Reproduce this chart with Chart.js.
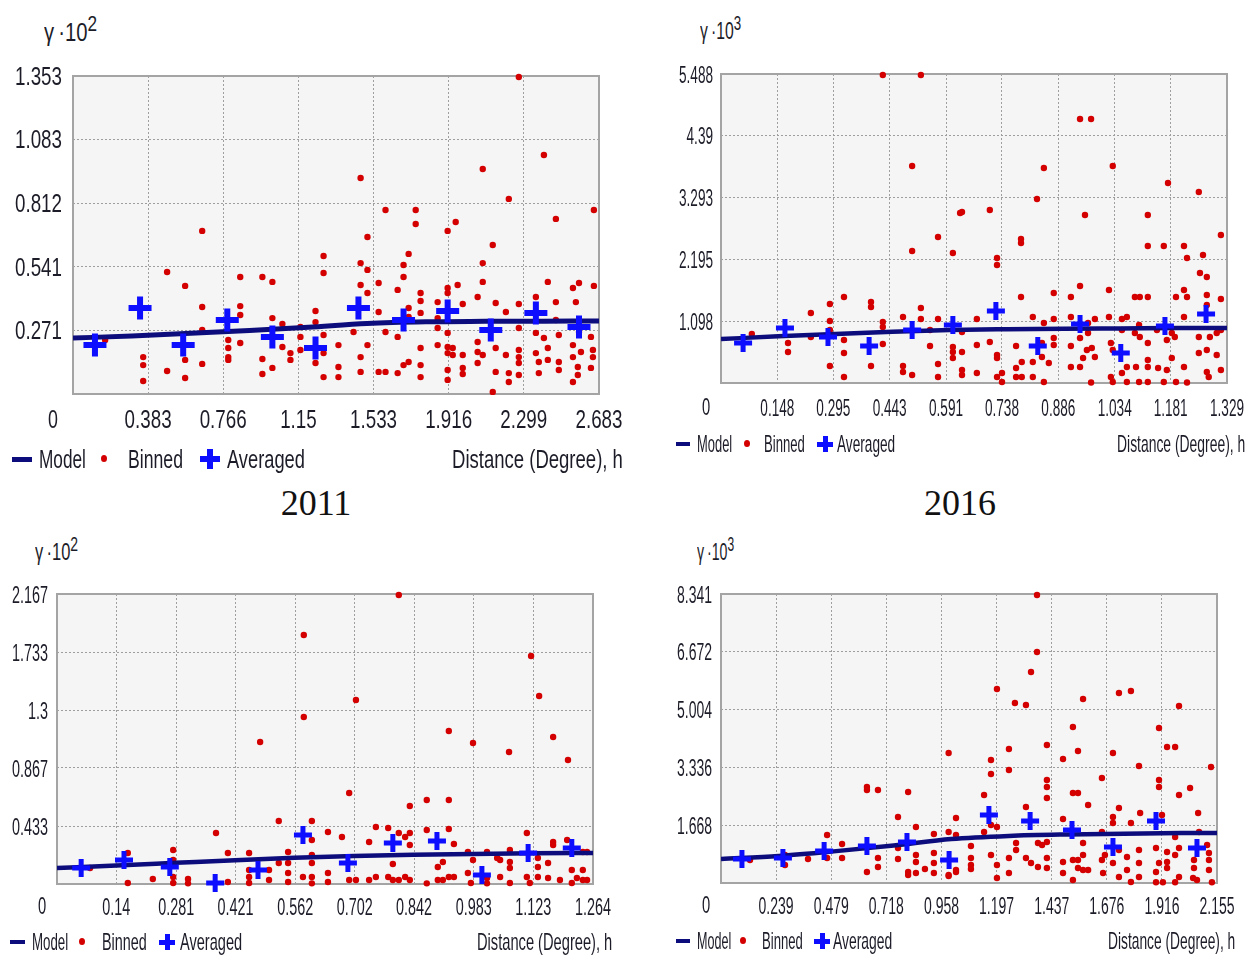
<!DOCTYPE html>
<html>
<head>
<meta charset="utf-8">
<script src="https://cdn.jsdelivr.net/npm/chart.js@4/dist/chart.umd.min.js"></script>
<style>
  body { margin: 0; background: #fff; }
  #page { position: relative; width: 1252px; height: 956px; overflow: hidden; background: #fff; }
  canvas { position: absolute; }
  .txt { position: absolute; white-space: nowrap; color: #1c1c28; transform-origin: 0 50%;
         font-family: "Liberation Sans", Arial, sans-serif; }
  .year { position: absolute; font-family: "Liberation Serif", "DejaVu Serif", serif; font-size: 36px; color: #111; }
  sup { font-size: 85%; vertical-align: 0.45em; line-height: 0; }
</style>
</head>
<body>
<div id="page">
  <canvas id="chart2011"></canvas>
  <canvas id="chart2016"></canvas>
  <canvas id="chartLowerLeft"></canvas>
  <canvas id="chartLowerRight"></canvas>
</div>
<script>
// ---------- 2011 (top left), gamma * 10^2 ----------
var xTicks2011 = [0, 0.383, 0.766, 1.15, 1.533, 1.916, 2.299, 2.683];
var yTicks2011 = [0, 0.271, 0.541, 0.812, 1.083, 1.353];
var model2011 = [[0,0.238],[0.3,0.247],[0.6,0.258],[0.9,0.270],[1.2,0.284],[1.5,0.300],[1.8,0.307],[2.1,0.309],[2.4,0.310],[2.683,0.311]];
var averaged2011 = [[0.112,0.208],[0.342,0.366],[0.562,0.208],[0.787,0.315],[1.017,0.243],[1.237,0.196],[1.456,0.366],[1.686,0.315],[1.911,0.353],[2.131,0.272],[2.361,0.345],[2.581,0.285]];
var binned2011 = [
  [2.274,1.349],[2.402,1.017],[2.090,0.957],[1.467,0.919],[2.223,0.830],[1.594,0.783],[1.748,0.783],[1.748,0.723],
  [1.952,0.732],[1.911,0.694],[2.463,0.745],[2.657,0.783],[1.502,0.668],[0.659,0.694],[0.480,0.519],[0.572,0.460],
  [0.853,0.498],[0.966,0.498],[1.017,0.477],[0.659,0.370],[0.659,0.272],[0.853,0.374],[0.853,0.336],[0.853,0.217],
  [1.017,0.323],[1.068,0.298],[1.237,0.353],[1.237,0.306],[1.160,0.285],[1.160,0.243],[1.160,0.187],[0.358,0.157],
  [0.358,0.123],[0.358,0.055],[0.164,0.230],[0.480,0.098],[0.572,0.145],[0.572,0.068],[0.659,0.128],[0.792,0.230],
  [0.792,0.196],[0.792,0.157],[0.792,0.145],[0.966,0.149],[0.966,0.085],[1.017,0.111],[1.068,0.200],[1.109,0.174],
  [1.109,0.145],[1.237,0.132],[1.278,0.587],[1.278,0.515],[1.467,0.557],[1.502,0.528],[1.467,0.464],[1.502,0.430],
  [1.559,0.472],[1.712,0.596],[1.686,0.549],[1.686,0.498],[1.656,0.443],[1.773,0.430],[1.773,0.396],[1.773,0.345],
  [1.860,0.391],[1.911,0.451],[1.911,0.430],[1.962,0.464],[2.090,0.557],[2.090,0.477],[2.141,0.634],[2.064,0.413],
  [1.988,0.383],[2.156,0.387],[2.208,0.349],[2.274,0.383],[2.422,0.477],[2.361,0.413],[2.463,0.391],[2.581,0.472],
  [2.550,0.451],[2.657,0.460],[2.565,0.391],[1.278,0.251],[1.278,0.174],[1.278,0.072],[1.354,0.208],[1.354,0.115],
  [1.354,0.072],[1.431,0.264],[1.467,0.157],[1.467,0.094],[1.559,0.349],[1.594,0.264],[1.559,0.094],[1.594,0.094],
  [1.502,0.208],[1.656,0.243],[1.656,0.089],[1.712,0.366],[1.712,0.328],[1.686,0.123],[1.712,0.136],[1.773,0.196],
  [1.773,0.123],[1.773,0.072],[1.860,0.323],[1.860,0.281],[1.860,0.208],[1.911,0.260],[1.911,0.200],[1.911,0.174],
  [1.911,0.102],[1.911,0.060],[1.937,0.196],[1.937,0.166],[1.988,0.166],[1.988,0.111],[1.988,0.085],[2.064,0.221],
  [2.064,0.179],[2.064,0.132],[2.090,0.166],[2.141,0.009],[2.156,0.196],[2.156,0.094],[2.208,0.166],[2.223,0.089],
  [2.223,0.051],[2.274,0.281],[2.274,0.187],[2.274,0.157],[2.274,0.132],[2.274,0.081],[2.361,0.260],[2.361,0.174],
  [2.376,0.136],[2.376,0.089],[2.402,0.238],[2.422,0.196],[2.422,0.145],[2.478,0.251],[2.478,0.136],[2.478,0.102],
  [2.463,0.315],[2.550,0.208],[2.550,0.157],[2.550,0.051],[2.575,0.115],[2.575,0.081],[2.591,0.179],[2.642,0.243],
  [2.652,0.187],[2.652,0.157],[2.642,0.111],[2.581,0.264]
];

// ---------- 2016 (top right), gamma * 10^3 ----------
var xTicks2016 = [0, 0.148, 0.295, 0.443, 0.591, 0.738, 0.886, 1.034, 1.181, 1.329];
var yTicks2016 = [0, 1.098, 2.195, 3.293, 4.39, 5.488];
var model2016 = [[0,0.78],[0.15,0.83],[0.3,0.87],[0.45,0.91],[0.6,0.94],[0.75,0.955],[0.9,0.965],[1.05,0.97],[1.2,0.975],[1.329,0.977]];
var averaged2016 = [[0.058,0.710],[0.168,0.977],[0.281,0.817],[0.389,0.657],[0.502,0.941],[0.609,1.030],[0.722,1.279],[0.832,0.657],[0.943,1.048],[1.050,0.533],[1.166,1.012],[1.274,1.225]];
var binned2016 = [
  [0.425,5.47],[0.525,5.47],[0.502,3.854],[0.570,2.593],[0.628,3.019],[0.943,4.689],[0.972,4.689],[0.848,3.818],
  [1.029,3.854],[1.174,3.552],[1.255,3.392],[0.830,3.268],[0.633,3.037],[0.706,3.072],[0.956,2.984],[1.121,2.984],
  [1.313,2.628],[0.788,2.557],[0.502,2.344],[0.609,2.309],[0.236,1.243],[0.286,1.403],[0.286,1.101],[0.323,1.527],
  [0.394,1.439],[0.394,1.350],[0.081,0.870],[0.176,0.710],[0.176,0.551],[0.236,0.817],[0.286,0.941],[0.286,0.302],
  [0.323,0.764],[0.323,0.533],[0.323,0.107],[0.394,0.302],[0.425,1.083],[0.425,0.995],[0.425,0.693],[0.478,1.172],
  [0.525,1.332],[0.525,1.137],[0.549,0.941],[0.549,0.657],[0.570,1.137],[0.478,0.302],[0.478,0.195],[0.502,0.142],
  [0.570,0.337],[0.570,0.107],[0.609,0.551],[0.609,0.444],[0.788,2.486],[0.725,2.220],[0.725,2.096],[0.788,1.527],
  [0.672,1.137],[0.633,0.906],[0.609,0.639],[0.633,0.551],[0.633,0.231],[0.633,0.142],[0.672,0.675],[0.672,0.178],
  [0.706,0.728],[0.725,0.497],[0.725,0.444],[0.725,0.107],[0.738,0.178],[0.738,0.018],[0.775,0.657],[0.775,0.266],
  [0.775,0.107],[0.790,0.373],[0.790,0.107],[0.819,1.172],[0.819,0.373],[0.819,0.107],[0.843,0.710],[0.843,0.462],
  [0.848,1.066],[0.848,0.018],[0.874,1.598],[0.874,1.137],[0.874,0.799],[0.874,0.675],[0.861,0.355],[0.919,1.527],
  [0.919,1.172],[0.919,0.657],[0.919,0.284],[0.943,1.723],[0.943,0.799],[0.951,0.444],[0.943,0.284],[0.961,0.586],
  [0.964,0.888],[0.964,1.066],[0.974,0.622],[0.982,1.137],[0.982,0.462],[0.972,0.010],[1.019,1.652],[1.019,1.172],
  [1.024,0.710],[1.029,0.586],[1.024,0.107],[1.029,0.018],[1.053,1.137],[1.053,0.941],[1.053,0.178],[1.066,1.172],
  [1.066,0.284],[1.066,0.018],[1.087,1.527],[1.100,1.527],[1.087,0.888],[1.100,0.817],[1.098,1.030],[1.090,0.284],
  [1.098,0.018],[1.121,1.527],[1.121,0.710],[1.121,0.408],[1.121,0.284],[1.121,0.018],[1.145,0.941],[1.148,0.266],
  [1.163,2.433],[1.121,2.433],[1.171,0.764],[1.171,0.231],[1.163,0.018],[1.184,0.888],[1.192,0.817],[1.184,0.444],
  [1.195,1.527],[1.195,0.018],[1.216,2.433],[1.224,2.220],[1.216,1.652],[1.224,1.527],[1.216,1.172],[1.216,0.284],
  [1.224,0.010],[1.258,1.954],[1.276,1.883],[1.266,2.273],[1.276,1.563],[1.276,1.385],[1.255,0.817],[1.255,0.533],
  [1.276,0.586],[1.284,0.817],[1.276,0.195],[1.281,0.107],[1.313,1.492],[1.302,0.888],[1.302,0.497],[1.313,0.231],
  [1.313,0.941]
];

// ---------- lower left, gamma * 10^2 ----------
var xTicksLowerLeft = [0, 0.14, 0.281, 0.421, 0.562, 0.702, 0.842, 0.983, 1.123, 1.264];
var yTicksLowerLeft = [0, 0.433, 0.867, 1.3, 1.733, 2.167];
var modelLowerLeft = [[0,0.120],[0.14,0.138],[0.28,0.158],[0.42,0.178],[0.56,0.196],[0.7,0.210],[0.84,0.219],[0.98,0.225],[1.12,0.229],[1.264,0.232]];
var averagedLowerLeft = [[0.057,0.120],[0.158,0.179],[0.266,0.127],[0.373,0.007],[0.474,0.105],[0.580,0.366],[0.686,0.157],[0.792,0.306],[0.896,0.321],[1.002,0.067],[1.111,0.232],[1.214,0.269]];
var binnedLowerLeft = [
  [0.582,1.861],[0.582,1.248],[0.479,1.061],[0.523,0.471],[0.601,0.471],[0.375,0.381],[0.167,0.232],[0.167,0.007],
  [0.078,0.120],[0.274,0.254],[0.274,0.179],[0.274,0.052],[0.274,0.007],[0.226,0.037],[0.309,0.037],[0.309,0.005],
  [0.403,0.232],[0.403,0.015],[0.453,0.232],[0.453,0.105],[0.453,0.052],[0.453,0.007],[0.500,0.105],[0.500,0.030],
  [0.523,0.157],[0.545,0.239],[0.545,0.157],[0.545,0.082],[0.545,0.015],[0.580,0.052],[0.601,0.329],[0.601,0.217],
  [0.601,0.157],[0.601,0.052],[0.601,0.005],[0.806,2.159],[1.118,1.704],[1.137,1.405],[0.705,1.375],[0.924,1.143],
  [0.981,1.054],[1.170,1.098],[1.066,0.986],[1.205,0.927],[0.689,0.680],[0.832,0.583],[0.872,0.628],[0.924,0.628],
  [0.639,0.389],[0.672,0.351],[0.736,0.314],[0.752,0.426],[0.781,0.418],[0.806,0.381],[0.821,0.351],[0.832,0.381],
  [0.832,0.291],[0.872,0.403],[0.924,0.411],[0.936,0.299],[0.639,0.082],[0.639,0.015],[0.689,0.030],[0.705,0.030],
  [0.736,0.030],[0.752,0.052],[0.781,0.052],[0.792,0.149],[0.792,0.030],[0.806,0.030],[0.821,0.052],[0.832,0.030],
  [0.872,0.005],[0.898,0.127],[0.898,0.030],[0.910,0.164],[0.910,0.030],[0.924,0.052],[0.936,0.052],[0.969,0.239],
  [0.981,0.179],[0.969,0.082],[0.976,0.007],[1.014,0.239],[1.014,0.045],[1.014,0.005],[1.038,0.194],[1.045,0.179],
  [1.045,0.052],[1.068,0.254],[1.068,0.164],[1.068,0.120],[1.068,0.007],[1.108,0.381],[1.108,0.052],[1.115,0.007],
  [1.134,0.194],[1.134,0.127],[1.134,0.052],[1.158,0.157],[1.158,0.045],[1.170,0.314],[1.170,0.291],[1.186,0.030],
  [1.203,0.329],[1.214,0.105],[1.214,0.007],[1.226,0.045],[1.240,0.239],[1.240,0.105],[1.240,0.030],[1.250,0.239],
  [1.250,0.030]
];

// ---------- lower right, gamma * 10^3 ----------
var xTicksLowerRight = [0, 0.239, 0.479, 0.718, 0.958, 1.197, 1.437, 1.676, 1.916, 2.155];
var yTicksLowerRight = [0, 1.668, 3.336, 5.004, 6.672, 8.341];
var modelLowerRight = [[0,0.69],[0.25,0.78],[0.5,0.92],[0.75,1.08],[1.0,1.27],[1.25,1.36],[1.5,1.40],[1.75,1.42],[2.0,1.44],[2.155,1.443]];
var averagedLowerRight = [[0.091,0.693],[0.269,0.722],[0.448,0.924],[0.634,1.068],[0.808,1.183],[0.991,0.664],[1.164,1.962],[1.343,1.789],[1.525,1.530],[1.703,1.039],[1.890,1.789],[2.068,1.010]];
var binnedLowerRight = [
  [0.989,3.752],[0.634,2.771],[0.634,2.684],[0.682,2.684],[0.813,2.626],[0.769,1.905],[0.847,1.616],[1.021,1.876],
  [0.461,1.385],[0.526,1.126],[0.526,0.722],[0.126,0.664],[0.378,0.693],[0.461,0.722],[0.682,0.722],[0.682,0.462],
  [0.634,0.317],[0.769,1.010],[0.769,0.693],[0.813,0.317],[0.813,0.231],[0.847,0.808],[0.847,0.606],[0.847,0.289],
  [0.886,0.404],[0.925,1.414],[0.925,0.866],[0.925,0.577],[0.925,0.289],[0.989,1.472],[0.989,0.202],[1.021,0.317],
  [1.021,1.385],[0.278,0.808],[0.278,0.519],[1.373,8.312],[1.373,6.667],[1.347,6.089],[1.199,5.599],[1.277,5.195],
  [1.325,5.137],[1.573,5.310],[1.729,5.483],[1.781,5.541],[1.990,5.108],[1.529,4.502],[1.903,4.473],[1.938,3.925],
  [1.973,3.925],[1.416,3.983],[1.251,3.867],[1.251,3.261],[1.486,3.579],[1.551,3.810],[1.703,3.752],[1.173,3.550],
  [1.173,3.146],[1.816,3.377],[2.129,3.348],[1.655,3.030],[1.416,2.973],[1.416,2.771],[1.416,2.453],[1.143,2.540],
  [1.529,2.597],[1.551,2.597],[1.595,2.251],[1.903,2.973],[1.903,2.771],[2.038,2.742],[1.990,2.540],[1.325,2.193],
  [1.821,2.020],[2.073,2.020],[1.143,1.472],[1.173,1.674],[1.199,1.616],[1.486,1.847],[1.703,1.905],[1.703,1.732],
  [1.729,2.165],[1.781,1.732],[1.916,1.962],[1.655,1.472],[1.282,1.154],[1.282,0.952],[1.086,1.068],[1.086,0.722],
  [1.086,0.519],[1.086,0.404],[1.173,0.808],[1.199,0.519],[1.199,0.144],[1.251,0.722],[1.251,0.289],[1.325,0.722],
  [1.347,0.577],[1.377,1.154],[1.377,0.462],[1.395,1.097],[1.416,1.183],[1.416,0.722],[1.416,0.433],[1.486,0.606],
  [1.486,0.289],[1.529,0.664],[1.529,0.087],[1.551,0.664],[1.551,0.433],[1.573,1.154],[1.573,0.808],[1.573,0.375],
  [1.595,0.375],[1.655,0.664],[1.660,0.289],[1.668,0.808],[1.703,0.577],[1.729,0.952],[1.729,0.173],[1.764,0.750],
  [1.764,0.375],[1.781,0.029],[1.816,0.952],[1.816,0.577],[1.816,0.173],[1.890,1.010],[1.890,0.317],[1.890,0.020],
  [1.903,0.577],[1.920,0.020],[1.938,0.895],[1.938,0.606],[1.938,0.433],[1.973,1.328],[1.973,0.808],[1.973,0.020],
  [1.990,1.010],[1.990,0.173],[2.055,0.664],[2.055,0.433],[2.051,0.144],[2.068,0.087],[2.077,1.472],[2.112,1.097],
  [2.120,0.664],[2.120,0.375],[2.133,0.020],[2.120,0.866],[1.021,0.375],[0.989,0.231]
];

var FONT = '"Liberation Sans", Arial, sans-serif';
var INK = '#1c1c28';
var page = document.getElementById('page');

var framePlugin = {
  id: 'frame',
  beforeDraw: function (chart) {
    var a = chart.chartArea, ctx = chart.ctx;
    ctx.save();
    ctx.fillStyle = '#f5f5f5';
    ctx.fillRect(a.left, a.top, a.right - a.left, a.bottom - a.top);
    ctx.restore();
  },
  beforeDatasetsDraw: function (chart) {
    var a = chart.chartArea, ctx = chart.ctx;
    ctx.save();
    ctx.strokeStyle = '#a4a4a4';
    ctx.lineWidth = 2;
    ctx.strokeRect(a.left, a.top, a.right - a.left, a.bottom - a.top);
    ctx.restore();
  }
};

// tick labels in a narrow face: the library's ticks, squeezed horizontally
var narrowTicks = {
  id: 'narrowTicks',
  afterDraw: function (chart, args, o) {
    var ctx = chart.ctx, a = chart.chartArea;
    var xs = chart.scales.x, ys = chart.scales.y;
    ctx.save();
    ctx.font = o.size + 'px ' + FONT;
    ctx.fillStyle = INK;
    var k = o.refWidth / ctx.measureText(o.refLabel).width;
    var asc = o.size * 0.36;
    xs.ticks.forEach(function (t) {
      if (t.value === 0) return;
      ctx.save();
      ctx.translate(xs.getPixelForValue(t.value), a.bottom + o.xOff + asc);
      ctx.scale(k, 1);
      ctx.textAlign = 'center';
      ctx.fillText(String(t.value), 0, 0);
      ctx.restore();
    });
    ys.ticks.forEach(function (t) {
      if (t.value === 0) return;
      ctx.save();
      ctx.translate(a.left - o.yOff, ys.getPixelForValue(t.value) + asc);
      ctx.scale(k, 1);
      ctx.textAlign = 'right';
      ctx.fillText(String(t.value), 0, 0);
      ctx.restore();
    });
    ctx.restore();
  }
};

function pts(arr) {
  return arr.map(function (p) { return { x: p[0], y: p[1] }; });
}

// HTML text squeezed to a target width; anchor 'l', 'r' or 'c' at x
function addText(html, x, cy, size, width, anchor) {
  var d = document.createElement('div');
  d.className = 'txt';
  d.innerHTML = html;
  d.style.fontSize = size + 'px';
  d.style.lineHeight = size + 'px';
  d.style.top = (cy - size / 2) + 'px';
  page.appendChild(d);
  var k = width / d.offsetWidth;
  var left = anchor === 'r' ? x - width : anchor === 'c' ? x - width / 2 : x;
  d.style.left = left + 'px';
  d.style.transform = 'scaleX(' + k + ')';
  return d;
}

function addBox(left, top, w, h, color) {
  var d = document.createElement('div');
  d.style.position = 'absolute';
  d.style.left = left + 'px';
  d.style.top = top + 'px';
  d.style.width = w + 'px';
  d.style.height = h + 'px';
  d.style.background = color;
  page.appendChild(d);
  return d;
}

function makePanel(id, cfg) {
  var pad = { l: 80, t: 24, r: 46, b: 56 };
  var w = cfg.rect.r - cfg.rect.l, h = cfg.rect.b - cfg.rect.t;
  var canvas = document.getElementById(id);
  canvas.width = w + pad.l + pad.r;
  canvas.height = h + pad.t + pad.b;
  canvas.style.left = (cfg.rect.l - pad.l) + 'px';
  canvas.style.top = (cfg.rect.t - pad.t) + 'px';

  new Chart(canvas, {
    type: 'scatter',
    data: {
      datasets: [
        { label: 'Averaged', data: pts(cfg.averaged), pointStyle: 'cross', pointRadius: cfg.plus / 2,
          pointHoverRadius: cfg.plus / 2, borderColor: '#0d0dff', backgroundColor: '#0d0dff',
          borderWidth: cfg.plusW, pointBorderWidth: cfg.plusW, clip: false },
        { label: 'Model', data: pts(cfg.model), showLine: true, borderColor: '#0c0c7c', borderWidth: cfg.lineW,
          pointRadius: 0, cubicInterpolationMode: 'monotone' },
        { label: 'Binned', data: pts(cfg.binned), pointStyle: 'circle', pointRadius: 3.2, pointHoverRadius: 3.2,
          backgroundColor: '#d40000', borderColor: '#d40000', borderWidth: 0, clip: false }
      ]
    },
    options: {
      responsive: false,
      animation: false,
      events: [],
      layout: { padding: { left: 0, top: pad.t, right: pad.r, bottom: 0 } },
      plugins: {
        legend: { display: false }, tooltip: { enabled: false },
        narrowTicks: { size: cfg.font, refLabel: String(cfg.yTicks[cfg.yTicks.length - 1]),
                       refWidth: cfg.refWidth, xOff: cfg.xOff, yOff: cfg.yOff }
      },
      scales: {
        x: {
          type: 'linear', min: 0, max: cfg.xTicks[cfg.xTicks.length - 1],
          afterBuildTicks: function (s) { s.ticks = cfg.xTicks.map(function (v) { return { value: v }; }); },
          afterFit: function (s) { s.height = pad.b; },
          grid: { color: '#9e9e9e', lineWidth: 1, drawTicks: false },
          border: { display: false, dash: [2, 2] },
          ticks: { display: false, autoSkip: false }
        },
        y: {
          type: 'linear', min: 0, max: cfg.yTicks[cfg.yTicks.length - 1],
          afterBuildTicks: function (s) { s.ticks = cfg.yTicks.map(function (v) { return { value: v }; }); },
          afterFit: function (s) { s.width = pad.l; },
          grid: { color: '#9e9e9e', lineWidth: 1, drawTicks: false },
          border: { display: false, dash: [2, 2] },
          ticks: { display: false, autoSkip: false }
        }
      }
    },
    plugins: [framePlugin, narrowTicks]
  });

  // shared origin label
  addText('0', cfg.zero[0], cfg.zero[1], cfg.font, cfg.zeroW, 'c');
  // y-axis title
  var yt = cfg.yTitle;
  addText('&gamma;&thinsp;&middot;10<sup>' + cfg.power + '</sup>', yt.x, yt.cy, yt.size, yt.w, 'l');

  // legend row
  var L = cfg.legend, ly = L.y;
  addBox(L.lineX, ly - L.lineH / 2, L.lineW, L.lineH, '#0c0c7c');
  addText('Model', L.modelX, ly, L.font, L.modelW, 'l');
  var dot = addBox(L.dotX - 3, ly - 4, 6, 7, '#d40000');
  dot.style.borderRadius = '50%';
  addText('Binned', L.binnedX, ly, L.font, L.binnedW, 'l');
  addBox(L.plusX - L.plus / 2, ly - L.plusW / 2, L.plus, L.plusW, '#0d0dff');
  addBox(L.plusX - L.plusW / 2, ly - L.plus / 2, L.plusW, L.plus, '#0d0dff');
  addText('Averaged', L.avgX, ly, L.font, L.avgW, 'l');
  addText('Distance (Degree), h', L.distRight, ly, L.font, L.distW, 'r');
}

makePanel('chart2011', {
  rect: { l: 73, t: 76, r: 599, b: 394 }, font: 25, refWidth: 47, xOff: 25, yOff: 11,
  xTicks: xTicks2011, yTicks: yTicks2011, model: model2011, averaged: averaged2011, binned: binned2011,
  plus: 23, plusW: 6, lineW: 5, power: 2, zero: [53, 419], zeroW: 10,
  yTitle: { x: 44, cy: 32, size: 26, w: 53 },
  legend: { y: 459, font: 26, lineX: 12, lineW: 20, lineH: 5, modelX: 39, modelW: 47, dotX: 104, binnedX: 128, binnedW: 55,
            plusX: 210, plus: 20, plusW: 6, avgX: 227, avgW: 78, distRight: 623, distW: 171 }
});
makePanel('chart2016', {
  rect: { l: 721, t: 74, r: 1227, b: 383 }, font: 24, refWidth: 34, xOff: 24, yOff: 8,
  xTicks: xTicks2016, yTicks: yTicks2016, model: model2016, averaged: averaged2016, binned: binned2016,
  plus: 18, plusW: 5, lineW: 4.5, power: 3, zero: [706, 407], zeroW: 8,
  yTitle: { x: 700, cy: 31, size: 23, w: 41 },
  legend: { y: 444, font: 24, lineX: 676, lineW: 14, lineH: 4, modelX: 697, modelW: 35, dotX: 747, binnedX: 764, binnedW: 41,
            plusX: 825, plus: 16, plusW: 5, avgX: 837, avgW: 58, distRight: 1245, distW: 128 }
});
makePanel('chartLowerLeft', {
  rect: { l: 57, t: 594, r: 593, b: 884 }, font: 24, refWidth: 36, xOff: 22, yOff: 9,
  xTicks: xTicksLowerLeft, yTicks: yTicksLowerLeft, model: modelLowerLeft, averaged: averagedLowerLeft,
  binned: binnedLowerLeft, plus: 18, plusW: 5, lineW: 4.5, power: 2, zero: [42, 906], zeroW: 8,
  yTitle: { x: 35, cy: 552, size: 23, w: 43 },
  legend: { y: 942, font: 24, lineX: 10, lineW: 15, lineH: 4, modelX: 32, modelW: 36, dotX: 82, binnedX: 102, binnedW: 45,
            plusX: 167, plus: 16, plusW: 5, avgX: 180, avgW: 62, distRight: 612, distW: 135 }
});
makePanel('chartLowerRight', {
  rect: { l: 721, t: 594, r: 1217, b: 883 }, font: 24, refWidth: 35, xOff: 22, yOff: 9,
  xTicks: xTicksLowerRight, yTicks: yTicksLowerRight, model: modelLowerRight, averaged: averagedLowerRight,
  binned: binnedLowerRight, plus: 18, plusW: 5, lineW: 4.5, power: 3, zero: [706, 905], zeroW: 8,
  yTitle: { x: 697, cy: 552, size: 23, w: 37 },
  legend: { y: 941, font: 24, lineX: 676, lineW: 14, lineH: 4, modelX: 697, modelW: 34, dotX: 743, binnedX: 762, binnedW: 41,
            plusX: 822, plus: 16, plusW: 5, avgX: 833, avgW: 59, distRight: 1235, distW: 127 }
});

// year captions
function addYear(txt, cx, cy) {
  var d = document.createElement('div');
  d.className = 'year';
  d.textContent = txt;
  d.style.left = cx + 'px';
  d.style.top = cy + 'px';
  d.style.transform = 'translate(-50%, -50%)';
  page.appendChild(d);
}
addYear('2011', 316, 503);
addYear('2016', 960, 503);
</script>
</body>
</html>
